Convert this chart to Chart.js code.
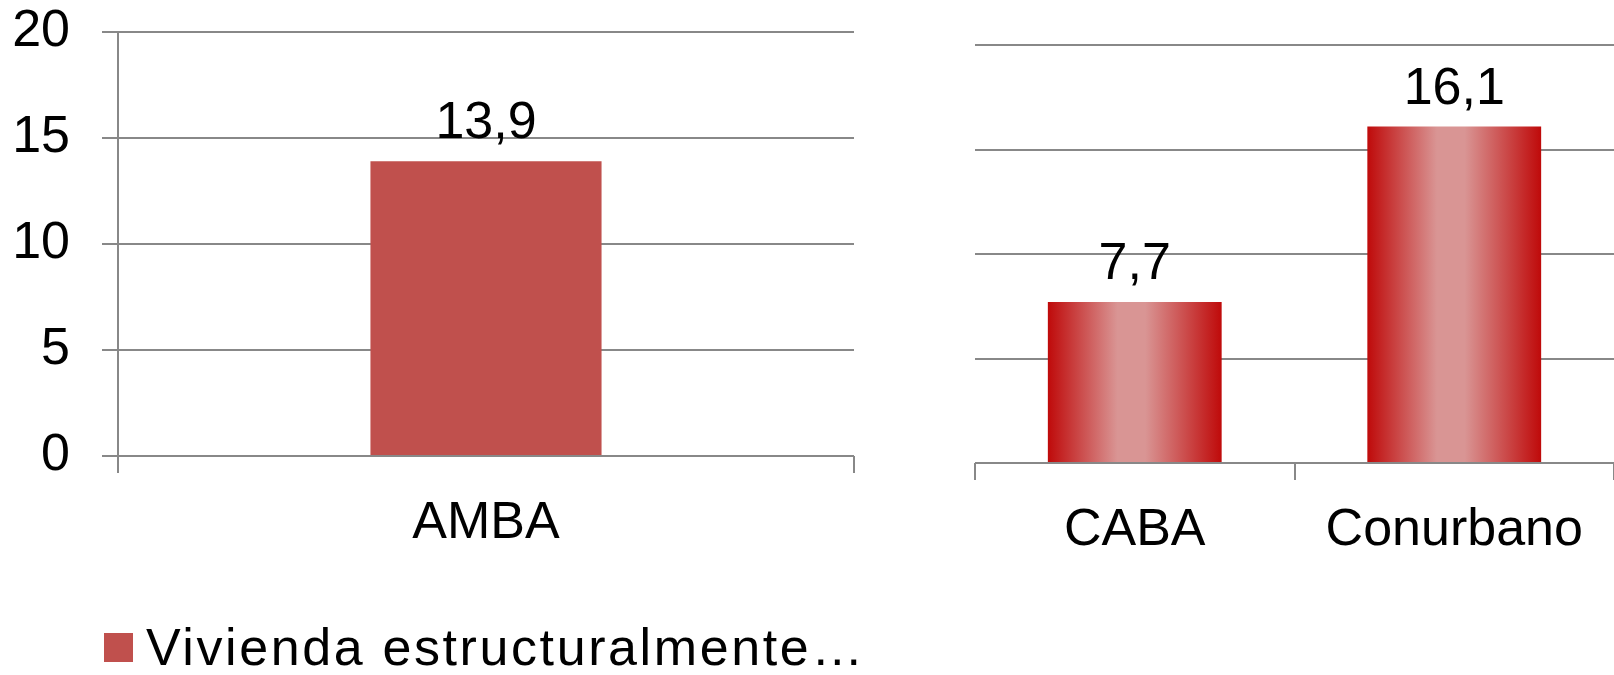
<!DOCTYPE html>
<html>
<head>
<meta charset="utf-8">
<script src="https://cdn.jsdelivr.net/npm/chart.js@4/dist/chart.umd.min.js"></script>
<style>
  body { margin: 0; background: #fff; width: 1614px; height: 675px; overflow: hidden; position: relative; }
  #left { position: absolute; left: 0; top: 0; }
  #right { position: absolute; left: 930px; top: 0; }
  #legend { position: absolute; left: 104px; top: 621px; display: flex; align-items: center;
            font: 52px "Liberation Sans", Arial, sans-serif; line-height: 52px; letter-spacing: 2.6px; color: #000; }
  #legend span.box { width: 29px; height: 29px; margin-right: 13px; display: inline-block; }
</style>
</head>
<body>
<canvas id="left" width="860" height="675"></canvas>
<canvas id="right" width="684" height="675"></canvas>
<div id="legend"></div>
<script>
let seriesName = "Vivienda estructuralmente…"
let leftLabels = ["AMBA"]
let leftValues = [13.9]
let rightLabels = ["CABA", "Conurbano"]
let rightValues = [7.7, 16.1]
let yMin = 0, yMax = 20, yStep = 5

const font = { family: '"Liberation Sans", Arial, sans-serif', size: 52 };
const gridColor = '#888888';
const leftColor = '#C0504D';
const rightBarPct = 0.544;

// value above each bar, with comma decimals
const valueLabels = {
  id: 'valueLabels',
  afterDatasetsDraw(chart) {
    const ctx = chart.ctx;
    ctx.save();
    ctx.font = font.size + 'px ' + font.family;
    ctx.fillStyle = '#000';
    ctx.textAlign = 'center';
    ctx.textBaseline = 'alphabetic';
    chart.getDatasetMeta(0).data.forEach((bar, i) => {
      const v = chart.data.datasets[0].data[i];
      ctx.fillText(v.toFixed(1).replace('.', ','), bar.x, bar.y - 23);
    });
    ctx.restore();
  }
};

// horizontal shading for the right hand bars
function barGradient(c) {
  const chart = c.chart;
  const x = chart.scales.x;
  if (!x || !chart.chartArea) return '#c84848';
  const center = x.getPixelForValue(c.dataIndex);
  const half = x.width / chart.data.labels.length * rightBarPct / 2;
  const g = chart.ctx.createLinearGradient(center - half, 0, center + half, 0);
  g.addColorStop(0, '#bf0a0a');
  g.addColorStop(0.4, '#d99594');
  g.addColorStop(0.56, '#d99594');
  g.addColorStop(1, '#bf0a0a');
  return g;
}

function xScale() {
  return {
    afterFit(scale) { scale.height = 98; },
    grid: { drawOnChartArea: false, drawTicks: true, tickLength: 17, color: gridColor, lineWidth: 2 },
    border: { display: false },
    ticks: { font: font, color: '#000', padding: 19, maxRotation: 0 }
  };
}

new Chart(document.getElementById('left').getContext('2d'), {
  type: 'bar',
  data: {
    labels: leftLabels,
    datasets: [{ label: seriesName, data: leftValues, backgroundColor: leftColor,
                 categoryPercentage: 1, barPercentage: 0.314 }]
  },
  options: {
    responsive: false,
    animation: false,
    layout: { padding: { left: 12, right: 6, top: 32, bottom: 121 } },
    plugins: { legend: { display: false }, tooltip: { enabled: false } },
    scales: {
      x: xScale(),
      y: {
        min: yMin, max: yMax,
        afterFit(scale) { scale.width = 106; scale.paddingTop = 0; scale.paddingBottom = 0; },
        ticks: { stepSize: yStep, font: font, color: '#000', padding: 32 },
        grid: { color: gridColor, lineWidth: 2, tickLength: 16 },
        border: { display: true, color: gridColor, width: 2 }
      }
    }
  },
  plugins: [valueLabels]
});

new Chart(document.getElementById('right').getContext('2d'), {
  type: 'bar',
  data: {
    labels: rightLabels,
    datasets: [{ label: seriesName, data: rightValues, backgroundColor: barGradient,
                 categoryPercentage: 1, barPercentage: rightBarPct }]
  },
  options: {
    responsive: false,
    animation: false,
    layout: { padding: { left: 45, right: 0, top: 45, bottom: 114 } },
    plugins: { legend: { display: false }, tooltip: { enabled: false } },
    scales: {
      x: xScale(),
      y: {
        min: yMin, max: yMax,
        ticks: { stepSize: yStep, display: false },
        grid: { color: gridColor, lineWidth: 2, drawTicks: false },
        border: { display: false }
      }
    }
  },
  plugins: [valueLabels]
});

// legend for the series, as in the original
const legend = document.getElementById('legend');
legend.innerHTML = '<span class="box" style="background:' + leftColor + '"></span>' + seriesName;
</script>
</body>
</html>
